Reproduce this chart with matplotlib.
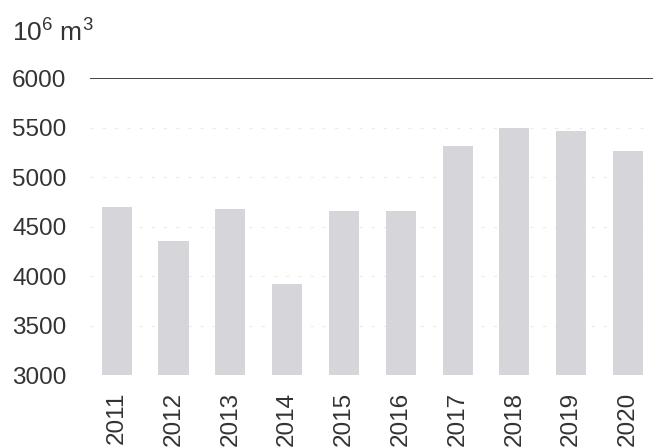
import matplotlib.pyplot as plt
import numpy as np

# data (10^6 m3)
years = ['2011', '2012', '2013', '2014', '2015', '2016', '2017', '2018', '2019', '2020']
volumes = [4700, 4350, 4680, 3920, 4660, 4660, 5310, 5500, 5460, 5260]
yticks = [3000, 3500, 4000, 4500, 5000, 5500, 6000]

plt.rcParams['font.family'] = ['Liberation Sans', 'DejaVu Sans']
plt.rcParams['mathtext.fontset'] = 'custom'
plt.rcParams['mathtext.rm'] = 'Liberation Sans'

fig = plt.figure(figsize=(6.53, 4.48), dpi=100)
ax = fig.add_axes([90 / 653, 1 - 375 / 448, 563 / 653, 297 / 448])

x = np.arange(len(years))
base = yticks[0]
ax.bar(x, [v - base for v in volumes], bottom=base, width=0.53,
       color='#d5d5da', edgecolor='none', zorder=2)

# faint gridlines and the dark 6000 line
for t in yticks[1:-1]:
    ax.axhline(t, color='#ececec', lw=0.8, ls=(0, (3, 8)), zorder=1)
ax.axhline(6000, color='#333333', lw=1.3, zorder=3)

ax.set_ylim(3000, 6000)
ax.set_xlim(-0.47, 9.44)
ax.set_yticks(yticks)
ax.set_yticklabels([str(t) for t in yticks], fontsize=17.5, color='#333333')
for lab in ax.get_yticklabels():
    lab.set_horizontalalignment('left')
ax.yaxis.set_tick_params(length=0, pad=56)

ax.set_xticks(x)
ax.set_xticklabels(years, rotation=90, fontsize=17.5, color='#333333')
ax.xaxis.set_tick_params(length=0, pad=12)

for s in ax.spines.values():
    s.set_visible(False)

fig.text(12 / 653, 1 - 32 / 448, r'10$^\mathregular{6}$ m$^\mathregular{3}$',
         fontsize=19, color='#333333', va='center', ha='left')

fig.savefig('out.png', dpi=100)
